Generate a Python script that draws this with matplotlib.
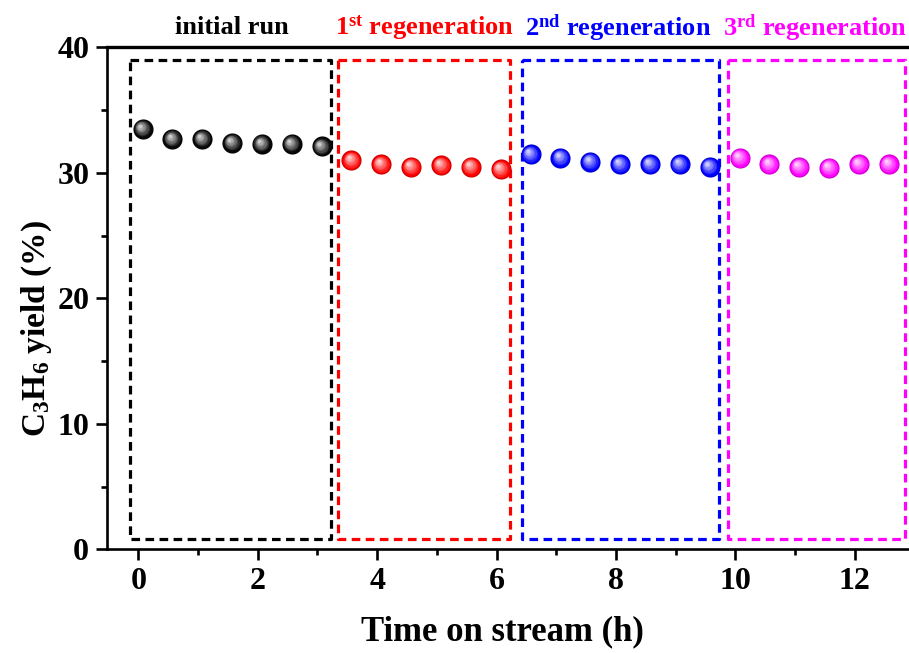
import matplotlib
matplotlib.use("Agg")
import matplotlib.pyplot as plt
import matplotlib.transforms as mtransforms
from matplotlib.colors import to_rgb
import numpy as np

plt.rcParams['font.family'] = ['Liberation Serif', 'DejaVu Serif']
plt.rcParams['font.weight'] = 'bold'
plt.rcParams['mathtext.fontset'] = 'custom'
plt.rcParams['mathtext.rm'] = 'Liberation Serif:bold'
plt.rcParams['mathtext.bf'] = 'Liberation Serif:bold'
plt.rcParams['mathtext.it'] = 'Liberation Serif:bold'

# Time on stream (h) and C3H6 yield (%) for each run
t_initial = [0.07, 0.57, 1.07, 1.57, 2.07, 2.57, 3.07]
y_initial = [33.5, 32.7, 32.7, 32.4, 32.3, 32.3, 32.1]
t_regen1 = [3.57, 4.07, 4.57, 5.07, 5.57, 6.07]
y_regen1 = [31.0, 30.7, 30.5, 30.6, 30.5, 30.3]
t_regen2 = [6.57, 7.07, 7.57, 8.07, 8.57, 9.07, 9.57]
y_regen2 = [31.5, 31.2, 30.9, 30.7, 30.7, 30.7, 30.5]
t_regen3 = [10.07, 10.57, 11.07, 11.57, 12.07, 12.57]
y_regen3 = [31.2, 30.7, 30.5, 30.4, 30.7, 30.7]

# Dashed frame around each run: (x0, x1, y0, y1)
frames = [(-0.14, 3.22, 0.85, 39.0),
          (3.35, 6.23, 0.8, 38.95),
          (6.42, 9.73, 0.85, 39.0),
          (9.88, 12.84, 0.85, 39.0)]
labels = ['initial run',
          r'$\mathbf{1^{st}}$ regeneration',
          r'$\mathbf{2^{nd}}$ regeneration',
          r'$\mathbf{3^{rd}}$ regeneration']
label_x = [1.57, 4.80, 8.03, 11.33]
colors = ['#000000', '#FF0000', '#0000FF', '#FF00FF']

fig = plt.figure(figsize=(9.09, 6.53), dpi=100)
W, H = 909, 653
ax_left, ax_right = 107.3, 914.5
ax_top, ax_bottom = 47.3, 549.3
ax = fig.add_axes([ax_left / W, (H - ax_bottom) / H,
                   (ax_right - ax_left) / W, (ax_bottom - ax_top) / H])

ax.set_xlim(-0.52, 13.0)
ax.set_ylim(0, 40)


def sphere(ax, x, y, color, size=14.5):
    """Draw shaded balls: dark rim, body, and a highlight toward the upper left."""
    base = np.array(to_rgb(color))
    if base.sum() == 0:
        body = np.array([0.03, 0.03, 0.03])
        light = np.array([0.8, 0.8, 0.8])
    else:
        body = base
        light = 1 - (1 - base) * 0.2
    ax.plot(x, y, 'o', ms=size, mfc=body * 0.8, mec='none', zorder=5)
    n = 7
    for k in range(n):
        f = k / (n - 1)
        s = size * (0.9 - 0.72 * f)
        c = body * (1 - f) + light * f
        dx, dy = -2.0 * f, 2.0 * f
        tr = mtransforms.offset_copy(ax.transData, fig=fig, x=dx, y=dy, units='points')
        ax.plot(x, y, 'o', ms=s, mfc=c, mec='none', zorder=6 + k, transform=tr)


series = [(t_initial, y_initial), (t_regen1, y_regen1),
          (t_regen2, y_regen2), (t_regen3, y_regen3)]
for (tx, ty), c in zip(series, colors):
    sphere(ax, tx, ty, c)

for (x0, x1, y0, y1), c in zip(frames, colors):
    ax.plot([x0, x1, x1, x0, x0], [y1, y1, y0, y0, y1], color=c, lw=2.3,
            linestyle=(0, (2.7, 1.7)), zorder=3)

for lx, lab, c in zip(label_x, labels, colors):
    ax.text(lx, 41.6, lab, color=c, fontsize=19, fontweight='bold',
            ha='center', va='center', clip_on=False)

ax.set_xticks([0, 2, 4, 6, 8, 10, 12])
ax.set_xticks([1, 3, 5, 7, 9, 11], minor=True)
ax.set_yticks([0, 10, 20, 30, 40])
ax.set_yticks([5, 15, 25, 35], minor=True)
ax.tick_params(axis='both', which='major', direction='out', length=8, width=1.9,
               labelsize=23, pad=5)
ax.tick_params(axis='both', which='minor', direction='out', length=4.3, width=1.9)
for lab in ax.get_xticklabels() + ax.get_yticklabels():
    lab.set_fontweight('bold')

for side in ['left', 'bottom']:
    ax.spines[side].set_linewidth(1.9)
ax.spines['top'].set_linewidth(2.4)
ax.spines['right'].set_visible(False)

ax.set_xlabel('Time on stream (h)', fontsize=25, fontweight='bold')
ax.set_ylabel(r'$\mathbf{C_3H_6}$ yield (%)', fontsize=24, fontweight='bold')
ax.xaxis.set_label_coords((502 - ax_left) / (ax_right - ax_left),
                          -(632 - ax_bottom) / (ax_bottom - ax_top))
ax.yaxis.set_label_coords(-(ax_left - 37) / (ax_right - ax_left),
                          (ax_bottom - 328) / (ax_bottom - ax_top))
ax.xaxis.label.set_va('center')
ax.yaxis.label.set_va('center')

fig.savefig('out.png', dpi=100)
